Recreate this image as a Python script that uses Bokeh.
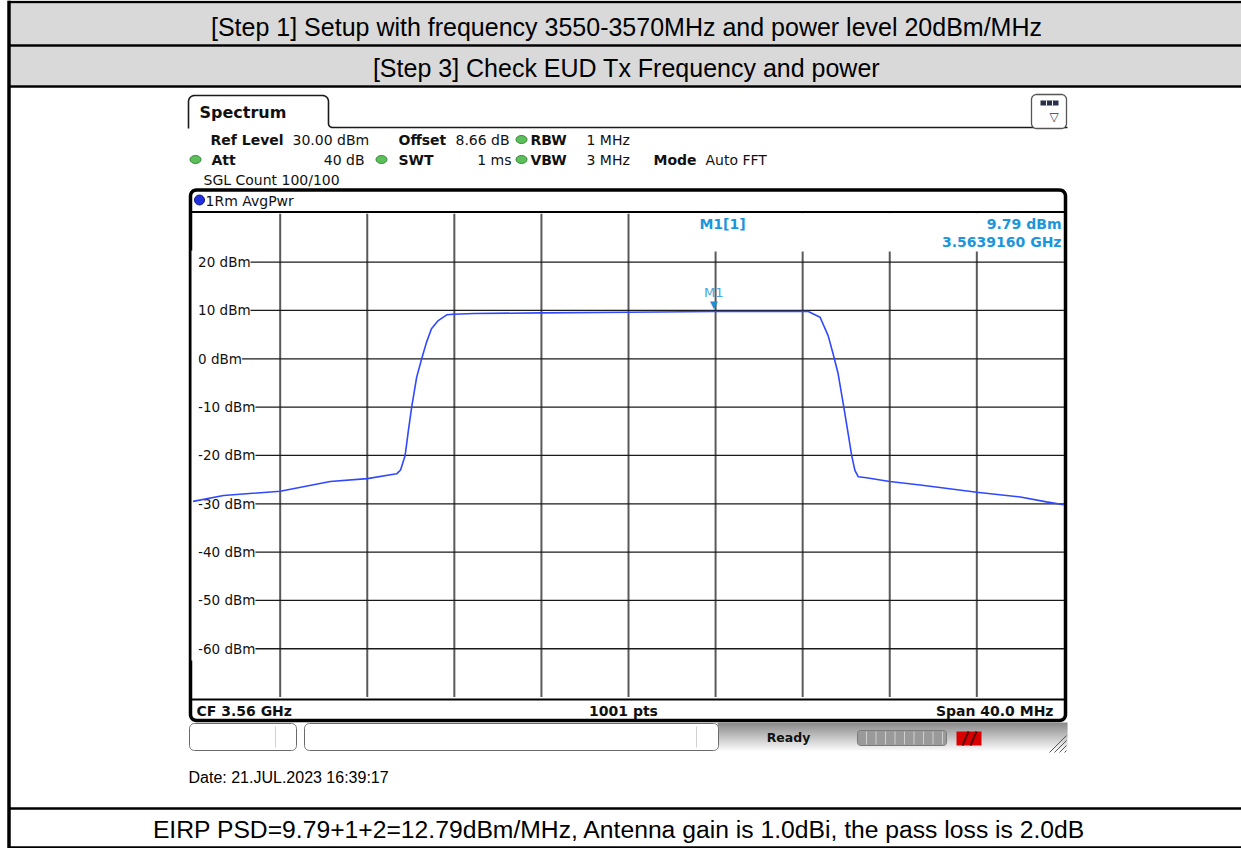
import numpy as np
from bokeh.plotting import figure
from bokeh.models import Range1d, ColumnDataSource, LabelSet
from bokeh.core.properties import value
from bokeh.embed import file_html
from bokeh.resources import INLINE

# ---------------- data ----------------
freq_mhz = [3540.0, 3541.4, 3544.0, 3546.3, 3548.0, 3549.35, 3549.53, 3549.74, 3549.89,
            3550.04, 3550.27, 3550.5, 3550.72, 3550.95, 3551.26, 3551.65, 3551.95, 3552.9,
            3556.0, 3560.0, 3563.916, 3568.26, 3568.8, 3569.17, 3569.4, 3569.63, 3569.89,
            3570.09, 3570.25, 3570.4, 3570.55, 3570.93, 3572.0, 3573.4, 3576.0, 3578.0,
            3579.2, 3580.0]
level_dbm = [-29.5, -28.3, -27.4, -25.4, -24.8, -23.8, -23.0, -20.0, -14.8,
             -10.0, -3.8, 0.0, 3.4, 6.2, 7.9, 9.1, 9.23, 9.37,
             9.5, 9.62, 9.79, 9.8, 8.6, 4.8, 1.0, -3.1, -10.0,
             -15.5, -20.0, -23.1, -24.4, -24.6, -25.4, -26.1, -27.6, -28.6,
             -29.6, -30.2]
marker_freq_mhz = 3563.916
marker_level_dbm = 9.79

f_start_mhz, f_stop_mhz = 3540.0, 3580.0
ref_level_dbm, bottom_dbm = 30.0, -70.0
x_grid_mhz = [3544, 3548, 3552, 3556, 3560, 3564, 3568, 3572, 3576]
y_tick_dbm = [20, 10, 0, -10, -20, -30, -40, -50, -60]
y_tick_labels = ["20 dBm", "10 dBm", "0 dBm", "-10 dBm", "-20 dBm", "-30 dBm",
                 "-40 dBm", "-50 dBm", "-60 dBm"]

header_1 = "[Step 1] Setup with frequency 3550-3570MHz and power level 20dBm/MHz"
header_2 = "[Step 3] Check EUD Tx Frequency and power"
footer = "EIRP PSD=9.79+1+2=12.79dBm/MHz, Antenna gain is 1.0dBi, the pass loss is 2.0dB"
date_text = "Date: 21.JUL.2023  16:39:17"
cf_text = "CF 3.56 GHz"
pts_text = "1001 pts"
span_text = "Span 40.0 MHz"
trace_label = "1Rm AvgPwr"

# instrument settings lines: (text, x, y, weight)
settings = [
    ("Ref Level", 210, 139, "bold"), ("30.00 dBm", 292, 139, "normal"),
    ("Offset", 398, 139, "bold"), ("8.66 dB", 455, 139, "normal"),
    ("RBW", 530, 139, "bold"), ("1 MHz", 586, 139, "normal"),
    ("Att", 211, 159, "bold"), ("SWT", 398, 159, "bold"),
    ("VBW", 530, 159, "bold"), ("3 MHz", 586, 159, "normal"),
    ("Mode", 653, 159, "bold"), ("Auto FFT", 705, 159, "normal"),
    ("SGL Count 100/100", 203, 179, "normal"),
]
settings_right = [("40 dB", 364, 159), ("1 ms", 511, 159)]
leds = [(521, 139), (195, 159), (381, 159), (521, 159)]

# ---------------- layout (pixel space of the page) ----------------
W, H = 1241, 848
GX0, GX1 = 192.6, 1063.4       # frequency axis ends
GY_TOP, GY_BOT = 213.3, 696.6  # level axis ends

p = figure(width=W, height=H, output_backend="svg", toolbar_location=None,
           x_range=Range1d(0, W), y_range=Range1d(H, 0),
           x_axis_location=None, y_axis_location=None, min_border=0,
           background_fill_color="white", border_fill_color="white",
           outline_line_color=None)
p.grid.visible = False

fpp = (f_stop_mhz - f_start_mhz) / (GX1 - GX0)
dpp = (ref_level_dbm - bottom_dbm) / (GY_BOT - GY_TOP)
p.extra_x_ranges = {"f": Range1d(f_start_mhz - GX0 * fpp,
                                 f_start_mhz + (W - GX0) * fpp)}
p.extra_y_ranges = {"d": Range1d(bottom_dbm - (H - GY_BOT) * dpp,
                                 ref_level_dbm + GY_TOP * dpp)}


def txt(x, y, s, size, font="DejaVu Sans", style="normal", color="black",
        align="left", baseline="middle"):
    p.text(x=[x], y=[y], text=[s], text_font=value(font), text_font_size=f"{size}px",
           text_font_style=style, text_color=color, text_align=align,
           text_baseline=baseline)


def arc(cx, cy, r, a0, a1, n=8):
    a = np.radians(np.linspace(a0, a1, n))
    return list(cx + r * np.cos(a)), list(cy + r * np.sin(a))


def rrect(x0, y0, x1, y1, r):
    xs, ys = [], []
    for cx, cy, a0, a1 in [(x1 - r, y0 + r, -90, 0), (x1 - r, y1 - r, 0, 90),
                           (x0 + r, y1 - r, 90, 180), (x0 + r, y0 + r, 180, 270)]:
        ax, ay = arc(cx, cy, r, a0, a1)
        xs += ax
        ys += ay
    return xs + [xs[0]], ys + [ys[0]]


# ---------- document table ----------
p.quad(left=[10, 10], right=[1241, 1241], top=[3, 46], bottom=[44, 85],
       fill_color="#d9d9d9", line_color=None)
p.segment(x0=[8] * 5, x1=[1241] * 5, y0=[1.5, 45, 86, 808, 847],
          y1=[1.5, 45, 86, 808, 847], line_color="black", line_width=2.5)
p.segment(x0=[8.5], x1=[8.5], y0=[0], y1=[848], line_color="black", line_width=3.5)
txt(626, 26, header_1, 25, font="Liberation Sans", align="center")
txt(626, 67, header_2, 25, font="Liberation Sans", align="center")
txt(619, 829, footer, 24.7, font="Liberation Sans", align="center")
txt(188, 777, date_text, 16, font="Liberation Sans")

# ---------- instrument screen ----------
tx, ty = [188, 188], [128, 101]
ax, ay = arc(194, 101, 6, 180, 270); tx += ax; ty += ay
ax, ay = arc(322, 101, 6, 270, 360); tx += ax; ty += ay
ax, ay = arc(332, 123, 4, 180, 90); tx += ax; ty += ay
tx += [1067]; ty += [127]
p.line(tx, ty, line_color="#1a1a1a", line_width=1.6)
txt(199, 112, "Spectrum", 16, style="bold", color="#111111")

ix, iy = rrect(1031, 94, 1066, 128, 5)
p.patch(ix, iy, fill_color="white", line_color="#555555", line_width=1.3)
p.quad(left=[1040], right=[1058], top=[100], bottom=[105], fill_color="#2a2f4a",
       line_color=None)
p.segment(x0=[1046, 1052], x1=[1046, 1052], y0=[100, 100], y1=[105, 105],
          line_color="white", line_width=1)
txt(1049, 116, "\u25bd", 12, color="#333333")

for s, x, y, w in settings:
    txt(x, y, s, 14, style=w, color="#111111")
for s, x, y in settings_right:
    txt(x, y, s, 14, color="#111111", align="right")
p.ellipse(x=[l[0] for l in leds], y=[l[1] for l in leds], width=11, height=8,
          fill_color="#5cbf5c", line_color="#2e8b2e", line_width=1)

# diagram frame
fx, fy = rrect(190, 189.5, 1065, 720, 6)
p.line(fx, fy, line_color="black", line_width=3.5)
p.segment(x0=[190, 190], x1=[1065, 1065], y0=[211.5, 699], y1=[211.5, 699],
          line_color="black", line_width=2)
p.ellipse(x=[199], y=[199.5], width=10, height=10, fill_color="#2030e0",
          line_color="#0a1680", line_width=1)
txt(205, 200, trace_label, 14, color="#111111")
txt(196, 710, cf_text, 14, style="bold", color="#111111")
txt(623, 710, pts_text, 14, style="bold", color="#111111", align="center")
txt(1053, 710, span_text, 14, style="bold", color="#111111", align="right")

# status bar
g = np.linspace(722, 752, 16)
shade = np.linspace(0.55, 1.0, 15)
cols = ["#%02x%02x%02x" % (int(255 * s), int(255 * s), int(255 * s)) for s in shade]
p.quad(left=[717] * 15, right=[1067] * 15, top=list(g[:-1]), bottom=list(g[1:] + 0.5),
       fill_color=cols, line_color=None)
for x0, x1, dv in [(189, 296, 275), (304, 718, 696)]:
    bx, by = rrect(x0, 723, x1, 750, 5)
    p.patch(bx, by, fill_color="white", line_color="#6a6a6a", line_width=1)
    p.segment(x0=[dv], x1=[dv], y0=[726], y1=[747], line_color="#d0d0d0", line_width=1)
txt(788, 737, "Ready", 12.5, style="bold", color="#111111", align="center")
px_, py_ = rrect(857, 730, 946, 745, 3)
p.patch(px_, py_, fill_color="#9a9a9a", line_color="#7a7a7a", line_width=1)
sx = list(np.arange(866, 944, 9.5))
p.segment(x0=sx, x1=sx, y0=[731] * len(sx), y1=[744] * len(sx), line_color="#cfcfcf",
          line_width=1)
p.quad(left=[956], right=[981], top=[731], bottom=[745], fill_color="#d80000",
       line_color=None)
p.segment(x0=[962, 970], x1=[968, 976], y0=[745, 745], y1=[731, 731],
          line_color="#5a0000", line_width=2)
hx = [1049, 1054, 1059, 1064]
p.segment(x0=hx, x1=[1066] * 4, y0=[752] * 4, y1=[735, 740, 745, 750],
          line_color="#555555", line_width=1)

# ---------- grid (in frequency / level units) ----------
gv = p.segment(x0=x_grid_mhz, x1=x_grid_mhz, y0=[bottom_dbm] * len(x_grid_mhz),
               y1=[ref_level_dbm] * len(x_grid_mhz), line_color="#5a5a5a",
               line_width=2, x_range_name="f", y_range_name="d")
gh = p.segment(x0=[f_start_mhz] * len(y_tick_dbm), x1=[f_stop_mhz] * len(y_tick_dbm),
               y0=y_tick_dbm, y1=y_tick_dbm, line_color="#1a1a1a", line_width=1.3,
               x_range_name="f", y_range_name="d")
gv.level = "underlay"
gh.level = "underlay"
lab_src = ColumnDataSource(dict(x=[f_start_mhz] * len(y_tick_dbm), y=y_tick_dbm,
                                t=y_tick_labels))
labels = LabelSet(x="x", y="y", text="t", source=lab_src, x_range_name="f",
                  y_range_name="d", x_offset=5, text_baseline="middle",
                  text_font=value("DejaVu Sans"), text_font_size="13.5px",
                  text_color="#111111", background_fill_color="white",
                  level="underlay")
p.add_layout(labels)

# blank margin between frame edge and level labels
p.quad(left=[191], right=[198], top=[250], bottom=[660], fill_color="white",
       line_color=None)
# marker readout panel
p.quad(left=[629.5], right=[1062], top=[213], bottom=[251], fill_color="white",
       line_color=None)
mcol = "#1b96dc"
txt(722, 223, "M1[1]", 14, style="bold", color=mcol, align="center")
txt(1061, 223, f"{marker_level_dbm:.2f} dBm", 14, style="bold", color=mcol, align="right")
txt(1061, 241.5, f"{marker_freq_mhz / 1000:.7f} GHz", 14, style="bold", color=mcol,
    align="right")

# ---------- trace ----------
p.line(freq_mhz, level_dbm, line_color="#3048ff", line_width=1.6,
       x_range_name="f", y_range_name="d")
p.text(x=[marker_freq_mhz], y=[marker_level_dbm], text=["\u25bc"], text_align="center",
       text_baseline="bottom", y_offset=-1, text_font=value("DejaVu Sans"),
       text_font_size="10px", text_color="#1e8fd6", x_range_name="f", y_range_name="d")
p.text(x=[marker_freq_mhz], y=[marker_level_dbm], text=["M1"], text_align="center",
       text_baseline="bottom", y_offset=-11, text_font=value("DejaVu Sans"),
       text_font_size="13px", text_color="#4aa6e0", x_range_name="f", y_range_name="d")

open("out.html", "w").write(file_html(p, INLINE))
